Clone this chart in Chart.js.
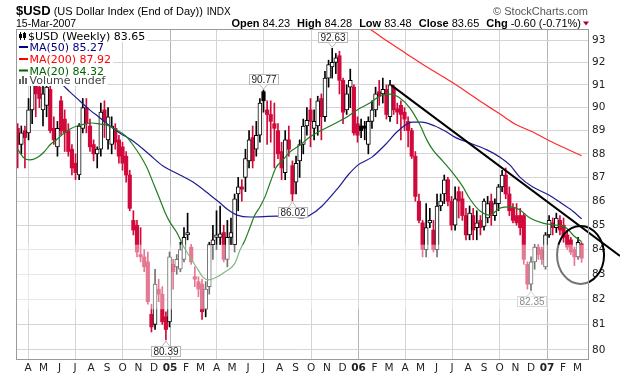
<!DOCTYPE html>
<html>
<head>
<meta charset="utf-8">
<script src="https://cdn.jsdelivr.net/npm/chart.js@4.4.1/dist/chart.umd.min.js"></script>
<style>
  html, body { margin: 0; padding: 0; background: #fff; overflow: hidden; }
  canvas { display: block; }
</style>
</head>
<body>
<canvas id="usd" width="620" height="376"></canvas>
<script>
// weekly $USD candles, index 0 = week ending 12-Mar-2004
const opens = [
  89.1, 88.4, 89.0, 88.9, 89.9, 91.3, 90.9, 89.9, 90.1, 90.8,
  89.1, 88.3, 90.3, 89.5, 89.0, 88.2, 87.6, 87.1, 89.1, 90.0,
  89.2, 88.4, 88.0, 88.2, 89.9, 88.6, 88.4, 89.1, 88.6, 88.3,
  87.9, 87.1, 85.2, 85.0, 83.8, 83.7, 83.5, 81.4, 81.0, 82.4,
  82.2, 81.3, 81.1, 83.4, 83.3, 83.2, 83.6, 84.6, 84.1, 82.9,
  82.7, 82.6, 81.6, 82.5, 84.2, 84.5, 84.5, 84.7, 83.6, 84.5,
  84.2, 86.3, 86.6, 87.0, 87.7, 88.7, 88.2, 88.8, 90.7, 89.9,
  89.7, 89.3, 89.0, 88.1, 87.2, 88.6, 87.5, 86.8, 87.7, 88.4,
  89.2, 89.9, 89.1, 89.2, 90.4, 89.6, 91.3, 91.8, 92.0, 92.3,
  91.2, 89.9, 90.9, 90.9, 89.3, 89.2, 89.2, 88.4, 89.4, 89.9,
  90.7, 90.6, 90.8, 89.6, 90.9, 89.95, 90.1, 89.8, 89.4, 89.0,
  87.9, 86.0, 85.1, 84.0, 85.1, 84.8, 84.0, 85.8, 86.3, 86.9,
  86.0, 85.0, 86.4, 86.1, 85.4, 84.6, 85.4, 84.9, 85.2, 84.95,
  85.3, 86.0, 85.4, 85.9, 86.6, 87.1, 86.3, 85.7, 85.4, 85.4,
  85.4, 83.4, 82.6, 83.5, 84.1, 84.0, 83.3, 84.6, 85.1, 84.9,
  85.2, 85.0, 84.6, 84.4, 84.0, 83.7, 84.23
];
const highs = [
  89.3, 89.2, 89.2, 90.4, 91.6, 91.9, 91.7, 91.3, 91.5, 91.4,
  89.6, 89.4, 90.5, 89.9, 89.3, 88.4, 88.0, 89.3, 90.4, 90.4,
  89.5, 88.6, 88.3, 90.2, 90.3, 90.0, 89.6, 89.3, 88.8, 88.5,
  88.1, 87.3, 85.6, 85.2, 84.9, 84.0, 83.9, 81.8, 83.2, 82.8,
  82.5, 81.5, 83.9, 83.6, 83.8, 84.3, 84.9, 85.5, 84.2, 83.3,
  82.9, 82.8, 82.7, 84.3, 85.0, 85.6, 85.8, 85.0, 85.2, 85.3,
  86.3, 87.0, 86.9, 88.2, 89.0, 89.2, 89.4, 90.4, 90.77, 90.3,
  90.3, 90.2, 89.3, 88.5, 89.0, 89.2, 87.7, 87.9, 88.6, 89.5,
  90.0, 90.4, 89.9, 90.5, 90.6, 91.6, 92.1, 92.63, 92.4, 92.5,
  91.3, 91.0, 91.7, 91.0, 89.6, 89.5, 89.4, 89.6, 90.3, 90.9,
  91.2, 91.3, 91.0, 91.2, 91.0, 90.2, 90.3, 90.0, 89.6, 89.1,
  88.1, 86.3, 85.2, 85.9, 85.7, 85.2, 86.3, 86.3, 87.1, 87.0,
  86.2, 86.6, 86.6, 86.4, 85.7, 85.8, 85.7, 85.6, 85.4, 86.1,
  86.2, 86.3, 86.1, 86.7, 87.3, 87.4, 86.6, 85.9, 85.9, 85.7,
  85.5, 83.5, 83.7, 84.2, 84.2, 84.1, 84.7, 85.4, 85.3, 85.5,
  85.4, 85.3, 84.8, 84.5, 84.1, 84.5, 84.28
];
const lows = [
  87.4, 88.0, 87.4, 88.6, 89.3, 89.6, 90.0, 89.2, 89.6, 88.9,
  88.4, 87.9, 88.8, 88.1, 87.9, 87.1, 86.9, 86.9, 88.9, 88.9,
  88.1, 87.7, 87.4, 87.9, 88.7, 88.2, 88.0, 88.2, 87.6, 87.3,
  86.8, 85.6, 84.6, 83.7, 83.5, 83.1, 81.8, 80.7, 80.8, 81.9,
  81.0, 80.39, 80.9, 82.4, 83.0, 83.1, 83.5, 84.4, 83.4, 82.5,
  82.1, 81.2, 81.3, 82.2, 83.6, 84.0, 84.2, 83.5, 83.3, 84.2,
  83.9, 85.6, 86.0, 86.4, 87.4, 87.4, 87.9, 88.5, 89.8, 88.4,
  88.5, 87.4, 87.8, 86.9, 86.9, 87.9, 86.02, 86.3, 87.0, 88.0,
  88.8, 88.3, 88.6, 88.8, 88.6, 89.4, 90.9, 91.3, 91.5, 90.6,
  89.3, 89.7, 90.0, 88.8, 88.5, 88.7, 88.6, 88.0, 89.1, 89.6,
  90.1, 90.2, 89.5, 89.4, 89.7, 89.3, 88.6, 89.0, 88.3, 87.8,
  86.0, 85.1, 83.7, 83.7, 84.9, 83.9, 83.7, 85.6, 85.9, 85.8,
  84.8, 84.8, 85.3, 85.2, 84.4, 84.4, 84.4, 84.4, 84.6, 84.8,
  85.1, 85.0, 85.2, 85.6, 86.4, 86.1, 85.4, 85.1, 85.0, 84.6,
  83.4, 82.4, 82.35, 83.2, 83.6, 83.4, 83.2, 84.5, 84.6, 84.7,
  84.6, 84.3, 84.0, 83.8, 83.35, 83.6, 83.48
];
const closes = [
  88.4, 88.9, 88.7, 89.9, 91.0, 90.6, 90.4, 90.6, 90.9, 89.0,
  88.6, 89.1, 89.0, 88.9, 88.1, 87.4, 87.2, 89.2, 90.0, 89.3,
  88.3, 88.0, 88.2, 89.8, 89.4, 89.6, 89.2, 88.5, 87.9, 87.6,
  87.1, 85.7, 84.8, 83.9, 83.7, 83.3, 81.9, 80.9, 82.6, 82.2,
  81.1, 80.8, 83.7, 83.1, 83.6, 84.0, 84.5, 84.7, 83.5, 82.8,
  82.4, 81.5, 82.4, 84.2, 84.4, 84.6, 84.65, 83.6, 84.5, 84.7,
  86.1, 86.6, 86.5, 87.8, 88.6, 87.7, 88.8, 90.2, 90.3, 89.7,
  89.4, 89.1, 88.0, 87.4, 88.6, 88.2, 86.3, 87.6, 88.4, 89.2,
  89.45, 89.4, 89.4, 90.3, 89.6, 91.3, 91.9, 92.0, 92.2, 91.2,
  89.8, 90.6, 91.2, 88.9, 88.8, 89.0, 89.1, 89.4, 89.9, 90.6,
  90.5, 90.8, 89.7, 91.0, 89.9, 89.8, 89.7, 89.5, 89.0, 87.9,
  86.2, 85.2, 84.0, 84.9, 85.2, 84.0, 85.8, 86.0, 86.9, 86.0,
  85.0, 86.1, 86.0, 85.4, 84.6, 85.5, 84.8, 85.1, 84.9, 86.0,
  85.9, 85.4, 85.9, 86.6, 87.1, 86.3, 85.6, 85.2, 85.1, 84.9,
  83.6, 82.6, 83.5, 84.1, 83.8, 83.6, 84.6, 85.2, 84.9, 85.3,
  84.8, 84.5, 84.1, 83.9, 83.7, 84.3, 83.65
];

// moving averages: [week, value]
const ma20 = [
  [-0.2, 88.25], [1.7, 87.83], [3.4, 87.74], [5.3, 87.83], [7.3, 88.08], [8.9, 88.38],
  [10.9, 88.63], [12.8, 88.89], [14.5, 89.07], [16.4, 89.2], [18.6, 89.28], [20.5, 89.33],
  [22.8, 89.28], [24.7, 89.24], [26.4, 89.11], [28.3, 88.94], [30.2, 88.72], [31.9, 88.38],
  [33.8, 87.95], [35.8, 87.4], [37.4, 86.8], [39.4, 86.05], [40.7, 85.55], [42.1, 85.13],
  [44.1, 84.68], [45.7, 84.18], [47.7, 83.69], [49.6, 83.25], [51.2, 82.89], [52.6, 82.77],
  [54.6, 82.85], [57.3, 83.09], [60.1, 83.45], [61.5, 83.98], [62.9, 84.39], [64.3, 84.93],
  [65.6, 85.42], [67.0, 85.76], [68.4, 86.18], [69.8, 86.76], [71.4, 87.4], [73.4, 87.74],
  [75.3, 88.08], [78.1, 88.38], [80.8, 88.72], [83.6, 88.98], [86.4, 89.2], [89.1, 89.42],
  [91.1, 89.59], [93.8, 89.89], [97.4, 90.2], [100.2, 90.51], [103.0, 90.59], [105.7, 90.42],
  [108.5, 89.98], [111.3, 89.24], [113.2, 88.59], [114.9, 88.16], [117.6, 87.69], [120.4, 87.18],
  [123.2, 86.59], [125.1, 86.09], [127.9, 85.59], [130.6, 85.42], [133.4, 85.71], [136.2, 85.76],
  [138.9, 85.63], [141.7, 85.3], [145.3, 85.09], [149.2, 85.0], [151.9, 84.88], [153.6, 84.6],
  [156.0, 84.32]
];
const ma50 = [
  [-0.2, 92.83], [12.5, 90.99], [14.5, 90.68], [17.2, 90.29], [20.0, 89.89], [22.8, 89.55],
  [25.5, 89.2], [28.3, 88.89], [31.9, 88.55], [36.6, 87.95], [40.2, 87.48], [44.9, 87.1],
  [48.5, 86.8], [53.2, 86.26], [56.0, 85.92], [57.9, 85.67], [60.7, 85.42], [64.3, 85.34],
  [71.7, 85.38], [76.2, 85.34], [78.9, 85.3], [80.9, 85.42], [84.2, 85.8], [88.6, 86.55],
  [91.4, 87.1], [94.1, 87.52], [98.0, 87.86], [101.6, 88.38], [105.2, 88.98], [109.1, 89.37],
  [111.8, 89.37], [115.4, 89.2], [118.2, 88.98], [120.9, 88.72], [125.1, 88.46], [129.8, 88.17],
  [133.4, 87.86], [136.2, 87.52], [138.9, 87.01], [142.5, 86.59], [146.4, 86.3], [150.0, 85.96],
  [152.8, 85.67], [156.0, 85.27]
];
const ma200 = [
  [94.7, 93.73], [96.9, 93.55], [102.2, 92.96], [107.7, 92.37], [113.2, 91.79], [119.6, 91.17],
  [124.3, 90.68], [128.7, 90.2], [133.4, 89.72], [138.1, 89.24], [142.5, 88.94], [147.2, 88.55],
  [151.9, 88.21], [156.0, 87.92]
];

const monthLabels = ['A','M','J','J','A','S','O','N','D','05','F','M',
                     'A','M','J','J','A','S','O','N','D','06','F','M',
                     'A','M','J','J','A','S','O','N','D','07','F','M'];
const yTicks = [80, 81, 82, 83, 84, 85, 86, 87, 88, 89, 90, 91, 92, 93];

// price callouts
const calloutWeeks = [87, 68, 76, 41, 142];
const calloutValues = [92.63, 90.77, 86.02, 80.39, 82.35];
const calloutAbove = [true, true, false, false, false];

// hand drawn trend line and ring
const trendFrom = [103.3, 90.99];
const trendTo = [166.6, 83.74];
const ringWeeks = [149.2, 162.2];
const ringValues = [82.61, 84.97];

// faint watermark band
const washValues = [81.6, 84.2];

const RED = '#d20a3c';
const WEEK0 = Date.UTC(2004, 2, 12);
const monthTicks = monthLabels.map((_, k) => (Date.UTC(2004, 3 + k, 1) - WEEK0) / (7 * 864e5));
const monthNum = monthLabels.map((_, k) => (3 + k) % 12);

const idx = closes.map((_, i) => i);
const prevClose = i => i === 0 ? opens[0] : closes[i - 1];
const filled = i => closes[i] < opens[i];
const colorOf = i => filled(i) && closes[i] <= prevClose(i) ? RED : '#000';
const hollowIdx = idx.filter(i => !filled(i));
const filledIdx = idx.filter(i => filled(i));

function callout(ctx, px, py, text, above) {
  ctx.font = '10px "Liberation Sans"';
  const w = Math.round(ctx.measureText(text).width) + 4, h = 10;
  const bx = Math.round(px - w / 2) + 0.5;
  const by = above ? Math.round(py) - 6 - h + 0.5 : Math.round(py) + 6 + 0.5;
  const edge = above ? by + h : by;
  ctx.fillStyle = '#fff';
  ctx.strokeStyle = '#b8b8b8';
  ctx.lineWidth = 1;
  ctx.fillRect(bx, by, w, h);
  ctx.strokeRect(bx, by, w, h);
  ctx.beginPath();
  ctx.moveTo(px - 4, edge);
  ctx.lineTo(px, above ? py - 1 : py + 1);
  ctx.lineTo(px + 4, edge);
  ctx.fill();
  ctx.stroke();
  ctx.fillStyle = '#222';
  ctx.textAlign = 'center';
  ctx.textBaseline = 'middle';
  ctx.fillText(text, bx + w / 2, by + h / 2 + 0.5);
}

const decor = {
  id: 'decor',
  afterDatasetsDraw(chart) {
    const {ctx, chartArea: a, scales: {x, y}} = chart;
    ctx.save();
    ctx.strokeStyle = '#000';
    ctx.lineWidth = 2;
    ctx.beginPath();
    ctx.moveTo(x.getPixelForValue(trendFrom[0]), y.getPixelForValue(trendFrom[1]));
    ctx.lineTo(x.getPixelForValue(trendTo[0]), y.getPixelForValue(trendTo[1]));
    ctx.stroke();

    const l = x.getPixelForValue(ringWeeks[0]), r = x.getPixelForValue(ringWeeks[1]);
    const b = y.getPixelForValue(ringValues[0]), t = y.getPixelForValue(ringValues[1]);
    ctx.beginPath();
    ctx.ellipse((l + r) / 2, (t + b) / 2, (r - l) / 2, (b - t) / 2, 0, 0, Math.PI * 2);
    ctx.stroke();

    calloutWeeks.forEach((wk, k) => {
      callout(ctx, x.getPixelForValue(wk), y.getPixelForValue(calloutValues[k]),
        calloutValues[k].toFixed(2), calloutAbove[k]);
    });

    const wt = y.getPixelForValue(washValues[1]), wb = y.getPixelForValue(washValues[0]);
    ctx.fillStyle = 'rgba(255,255,255,0.45)';
    ctx.fillRect(a.left, wt, a.right - a.left, wb - wt);
    ctx.restore();
  },
  afterDraw(chart) {
    const {ctx, chartArea: a} = chart;
    ctx.save();
    ctx.strokeStyle = '#9a9a9a';
    ctx.lineWidth = 1;
    ctx.strokeRect(a.left - 0.5, a.top - 0.5, a.right - a.left + 1, a.bottom - a.top + 1);

    // legend
    const rows = [
      [`$USD (Weekly) ${closes[closes.length - 1]}`, '#000', 'candle'],
      [`MA(50) ${ma50[ma50.length - 1][1]}`, '#000080', 'line'],
      [`MA(200) ${ma200[ma200.length - 1][1]}`, '#ff0000', 'line'],
      [`MA(20) ${ma20[ma20.length - 1][1]}`, '#006400', 'line'],
      ['Volume undef', '#444', 'vol']
    ];
    const base = [40, 51, 63, 74.5, 84];
    ctx.font = '11px "DejaVu Sans"';
    ctx.textBaseline = 'alphabetic';
    ctx.textAlign = 'left';
    rows.forEach(([txt], k) => {
      const tx = k === 0 ? 28 : 29.5;
      const w = ctx.measureText(txt).width;
      ctx.fillStyle = '#fff';
      ctx.fillRect(a.left, base[k] - 10, tx + w + 2 - a.left, 12);
    });
    rows.forEach(([txt, col, icon], k) => {
      const tx = k === 0 ? 28 : 29.5;
      ctx.fillStyle = col;
      ctx.fillText(txt, tx, base[k]);
      const yb = base[k];
      if (icon === 'line') {
        ctx.fillRect(19, yb - 5, 9, 2);
      } else if (icon === 'candle') {
        ctx.fillStyle = '#000';
        ctx.fillRect(20, yb - 8, 1, 8);
        ctx.fillRect(19, yb - 6, 3, 4);
        ctx.fillRect(24, yb - 8, 1, 8);
        ctx.strokeStyle = '#000';
        ctx.strokeRect(23.5, yb - 6.5, 2, 4);
      } else {
        ctx.fillStyle = '#666';
        ctx.fillRect(19, yb - 5, 2, 5);
        ctx.fillRect(22, yb - 8, 2, 8);
        ctx.fillRect(25, yb - 6, 2, 6);
      }
    });

    // header
    ctx.fillStyle = '#000';
    let hx = 16;
    ctx.font = 'bold 13px "Liberation Sans"';
    ctx.fillText('$USD', hx, 15);
    hx += ctx.measureText('$USD').width + 3;
    ctx.font = '11px "Liberation Sans"';
    const title = '(US Dollar Index (End of Day))';
    ctx.fillText(title, hx, 14.5);
    hx += ctx.measureText(title).width + 4;
    ctx.font = '10px "Liberation Sans"';
    ctx.fillText('INDX', hx, 14.5);
    ctx.font = '10.5px "Liberation Sans"';
    ctx.fillText('15-Mar-2007', 16, 27);

    ctx.fillStyle = '#555';
    ctx.font = '11px "Liberation Sans"';
    ctx.textAlign = 'right';
    ctx.fillText('\u00A9 StockCharts.com', 588, 14.5);

    const info = [['Open', '84.23'], ['High', '84.28'], ['Low', '83.48'],
                  ['Close', '83.65'], ['Chg', '-0.60 (-0.71%)']];
    const bold = 'bold 11px "Liberation Sans"', reg = '11px "Liberation Sans"';
    let total = 0;
    const parts = info.map(([k, v]) => {
      ctx.font = bold; const kw = ctx.measureText(k + ' ').width;
      ctx.font = reg; const vw = ctx.measureText(v).width;
      total += kw + vw;
      return [k, v, kw, vw];
    });
    total += 7 * (info.length - 1);
    let cx = 581 - total;
    ctx.textAlign = 'left';
    ctx.fillStyle = '#000';
    parts.forEach(([k, v, kw, vw]) => {
      ctx.font = bold; ctx.fillText(k + ' ', cx, 27); cx += kw;
      ctx.font = reg; ctx.fillText(v, cx, 27); cx += vw + 7;
    });
    ctx.fillStyle = '#b0002a';
    ctx.beginPath();
    ctx.moveTo(583, 21.5); ctx.lineTo(589, 21.5); ctx.lineTo(586, 25.5);
    ctx.closePath(); ctx.fill();
    ctx.restore();
  }
};

const lineSet = (pts, color, label) => ({
  type: 'line', label,
  data: pts.map(([x, y]) => ({x, y})),
  borderColor: color, borderWidth: 1.2, pointRadius: 0,
  cubicInterpolationMode: 'monotone', order: 0
});

new Chart(document.getElementById('usd'), {
  type: 'bar',
  data: {
    datasets: [
      lineSet(ma20, '#1f7d1f', 'MA(20)'),
      lineSet(ma50, '#1c1c94', 'MA(50)'),
      lineSet(ma200, '#ff2a2a', 'MA(200)'),
      {
        label: 'up', order: 1, grouped: false, barThickness: 4,
        data: hollowIdx.map(i => ({x: i, y: [opens[i], closes[i]]})),
        backgroundColor: '#fff', borderColor: '#000', borderWidth: 1, borderSkipped: false
      },
      {
        label: 'down', order: 1, grouped: false, barThickness: 3.5,
        data: filledIdx.map(i => ({x: i, y: [opens[i], closes[i]]})),
        backgroundColor: filledIdx.map(colorOf), borderWidth: 0
      },
      {
        label: 'range', order: 2, grouped: false, barThickness: 1,
        data: idx.map(i => ({x: i, y: [lows[i], highs[i]]})),
        backgroundColor: idx.map(colorOf), borderWidth: 0
      }
    ]
  },
  options: {
    responsive: false,
    animation: false,
    devicePixelRatio: 1,
    layout: {padding: {left: 17, top: 30, right: 0, bottom: 0}},
    plugins: {legend: {display: false}, tooltip: {enabled: false}},
    scales: {
      x: {
        type: 'linear', min: -0.19, max: 157.76, offset: false, bounds: 'data',
        afterBuildTicks: s => { s.ticks = monthTicks.map(v => ({value: v})); },
        afterFit: s => { s.height = 17; },
        ticks: {
          autoSkip: false, maxRotation: 0, padding: 3, color: '#222',
          callback: (v, i) => monthLabels[i],
          font: c => ({family: 'DejaVu Sans', size: 10.5,
                       weight: /^\d/.test(monthLabels[c.index] || '') ? 'bold' : 'normal'})
        },
        grid: {
          offset: false, drawTicks: false,
          color: c => {
            const m = monthNum[c.index];
            if (m === 0) return '#b4b4b4';
            return m % 3 === 0 ? '#d4d4d4' : 'rgba(0,0,0,0)';
          }
        },
        border: {display: false}
      },
      y: {
        type: 'logarithmic', position: 'right', min: 79.65, max: 93.46, bounds: 'data',
        afterBuildTicks: s => { s.ticks = yTicks.map(v => ({value: v})); },
        afterFit: s => { s.width = 32; },
        ticks: {
          padding: 4, color: '#222',
          font: {family: 'DejaVu Sans', size: 10.5},
          callback: v => String(v)
        },
        grid: {color: '#d4d4d4', drawTicks: false},
        border: {display: false}
      }
    }
  },
  plugins: [decor]
});
</script>
</body>
</html>
